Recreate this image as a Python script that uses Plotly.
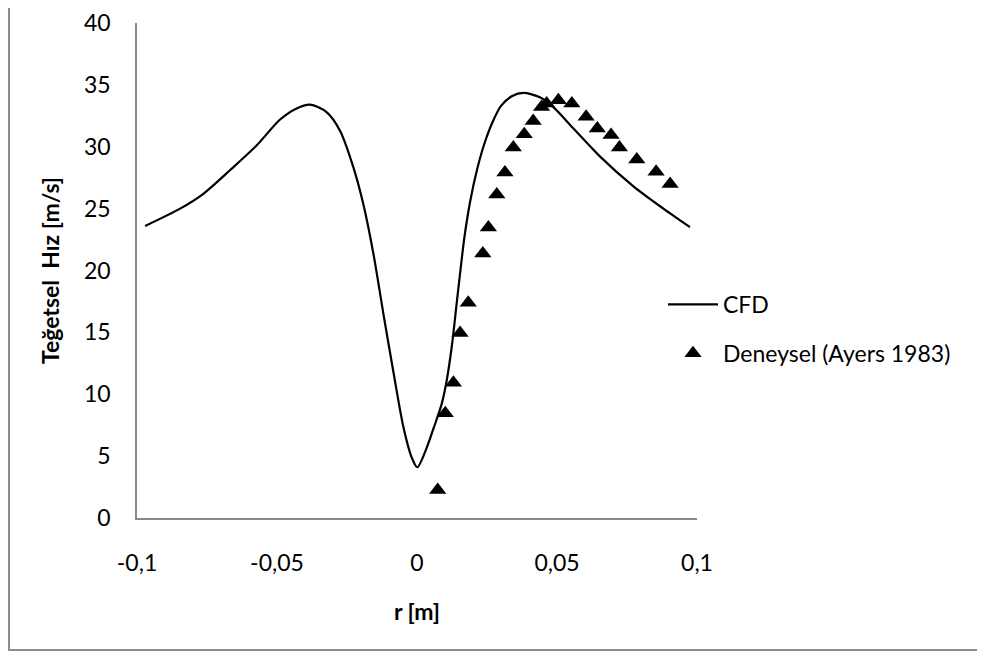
import plotly.graph_objects as go

# CFD curve
cfd_r = [-0.0971, -0.0846, -0.0763, -0.0668, -0.0573, -0.0489, -0.0430, -0.0382,
         -0.0323, -0.0275, -0.0228, -0.0192, -0.0156, -0.0120, -0.0085, -0.0049,
         -0.0019, 0.0001, 0.0030, 0.0060, 0.0088, 0.0106, 0.0125, 0.0140, 0.0155,
         0.0170, 0.0190, 0.0215, 0.0240, 0.0270, 0.0300, 0.0340, 0.0380, 0.0439,
         0.0487, 0.0558, 0.0654, 0.0773, 0.0880, 0.0975]
cfd_v = [23.6, 25.0, 26.2, 28.1, 30.1, 32.2, 33.1, 33.4,
         32.8, 31.3, 28.4, 25.4, 21.4, 16.5, 11.9, 7.4,
         4.9, 4.1, 5.4, 7.3, 9.2, 11.1, 14.0, 17.0, 20.0,
         22.8, 25.6, 28.2, 30.2, 32.0, 33.3, 34.1, 34.35, 34.0,
         33.2, 31.5, 29.2, 26.8, 25.0, 23.5]

# Experimental (Ayers 1983)
exp_r = [0.0074, 0.0101, 0.0130, 0.0154, 0.0183, 0.0235, 0.0255, 0.0285, 0.0314,
         0.0344, 0.0383, 0.0415, 0.0445, 0.0463, 0.0505, 0.0553, 0.0604, 0.0644,
         0.0693, 0.0723, 0.0785, 0.0854, 0.0904]
exp_v = [2.26, 8.46, 10.93, 14.94, 17.39, 21.38, 23.48, 26.15, 27.92,
         29.94, 31.02, 32.09, 33.22, 33.50, 33.76, 33.50, 32.42, 31.48,
         30.94, 29.94, 28.97, 27.97, 26.98]

x_ticks = [-0.1, -0.05, 0, 0.05, 0.1]
x_tick_labels = ["-0,1", "-0,05", "0", "0,05", "0,1"]
y_ticks = [0, 5, 10, 15, 20, 25, 30, 35, 40]

FONT = "Lato"
OFF = 8  # page body margin
W, H = 985 - OFF, 653 - OFF
L, T = 137 - OFF, 23 - OFF
R = W - (697 - OFF)
B = H - (518 - OFF)
pw, ph = W - L - R, H - T - B

def px_x(p):
    return (p - OFF - L) / pw

def px_y(p):
    return (H - B - (p - OFF)) / ph

fig = go.Figure()
fig.add_trace(go.Scatter(
    x=cfd_r, y=cfd_v, mode="lines", name="CFD", legendgroup="a",
    line=dict(color="black", width=2.2, shape="spline", smoothing=0.8),
))
fig.add_trace(go.Scatter(
    x=exp_r, y=exp_v, mode="markers", name="Deneysel (Ayers 1983)", legendgroup="b",
    marker=dict(symbol="triangle-up", size=15, color="black"),
))

axis_common = dict(
    showgrid=False, zeroline=False, showline=True, linecolor="#888888",
    linewidth=1.5, ticks="", tickfont=dict(family=FONT, size=23, color="black"),
)
fig.update_xaxes(
    range=[-0.1, 0.1], tickvals=x_ticks, ticktext=x_tick_labels,
    ticklabelstandoff=24,
    title=dict(text="<b>r [m]</b>", font=dict(family=FONT, size=23, color="black"), standoff=29),
    **axis_common,
)
fig.update_yaxes(
    range=[0, 40], tickvals=y_ticks,
    ticklabelstandoff=20,
    title=dict(text="<b>Teğetsel  Hız [m/s]</b>", font=dict(family=FONT, size=23, color="black"), standoff=18),
    **axis_common,
)

fig.update_layout(
    width=W, height=H,
    margin=dict(l=L, r=R, t=T, b=B, autoexpand=False),
    paper_bgcolor="white", plot_bgcolor="white",
    font=dict(family=FONT, size=23, color="black"),
    showlegend=True,
    legend=dict(x=px_x(663), y=px_y(283), xanchor="left", yanchor="top",
                font=dict(family=FONT, size=23, color="black"),
                bgcolor="rgba(0,0,0,0)", itemwidth=50,
                traceorder="grouped", tracegroupgap=16),
    shapes=[
        dict(type="line", xref="paper", yref="paper",
             x0=px_x(OFF), x1=px_x(985 + 5), y0=px_y(650), y1=px_y(650),
             line=dict(color="#8c8c8c", width=2)),
        dict(type="line", xref="paper", yref="paper",
             x0=px_x(OFF + 1), x1=px_x(OFF + 1), y0=px_y(651), y1=px_y(0),
             line=dict(color="#8c8c8c", width=2)),
    ],
)

fig.write_html("out.html")
